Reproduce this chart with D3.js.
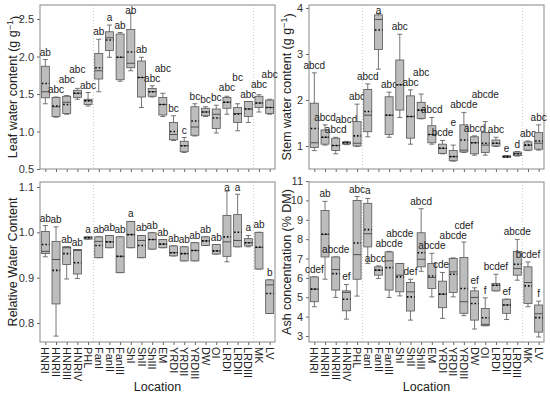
<!DOCTYPE html>
<html>
<head>
<meta charset="utf-8">
<script src="https://cdn.jsdelivr.net/npm/d3@7"></script>
<style>
  body { margin: 0; background: #fff; }
  text { font-family: Arial, "Liberation Sans", sans-serif; }
</style>
</head>
<body>
<div id="chart"></div>
<script>
// sampling locations (same order in all four panels)
var locations = ["HNRI", "HNRII", "HNRIII", "HNRIV", "PHL", "FanI", "FanII", "FanIII",
  "ShI", "ShII", "ShIII", "EM", "YRDI", "YRDII", "YRDIII", "DW", "OI",
  "LRDI", "LRDII", "LRDIII", "MK", "LV"];

// each box: [whisker low, q1, median, q3, whisker high, mean]
var leafBoxes = [
  [1.37, 1.45, 1.53, 1.87, 1.96, 1.64], [1.19, 1.20, 1.33, 1.455, 1.46, 1.34],
  [1.23, 1.24, 1.39, 1.47, 1.48, 1.36], [1.43, 1.455, 1.51, 1.55, 1.575, 1.51],
  [1.34, 1.36, 1.41, 1.43, 1.52, 1.41], [1.53, 1.70, 1.81, 2.04, 2.23, 1.85],
  [1.99, 2.08, 2.25, 2.33, 2.42, 2.22], [1.67, 1.69, 1.99, 2.30, 2.32, 1.99],
  [1.81, 1.85, 1.91, 2.36, 2.58, 2.06], [1.32, 1.46, 1.72, 1.94, 1.99, 1.72],
  [1.46, 1.47, 1.53, 1.575, 1.61, 1.53], [1.20, 1.22, 1.36, 1.455, 1.51, 1.36],
  [0.88, 0.89, 0.96, 1.12, 1.21, 1.00], [0.72, 0.73, 0.81, 0.87, 0.92, 0.81],
  [0.94, 0.95, 1.06, 1.33, 1.37, 1.14], [1.20, 1.21, 1.26, 1.31, 1.33, 1.26],
  [0.98, 1.04, 1.23, 1.30, 1.35, 1.18], [1.23, 1.31, 1.39, 1.455, 1.47, 1.39],
  [1.01, 1.12, 1.24, 1.32, 1.37, 1.23], [1.12, 1.20, 1.30, 1.40, 1.40, 1.30],
  [1.26, 1.32, 1.38, 1.47, 1.49, 1.38], [1.23, 1.24, 1.32, 1.42, 1.43, 1.32]
];
var leafLetters = ["ab", "abc", "abc", "abc", "abc", "ab", "a", "ab", "ab", "ab", "abc",
  "abc", "bc", "c", "bc", "bc", "bc", "abc", "bc", "abc", "abc", "abc"];

var stemBoxes = [
  [0.90, 0.97, 1.07, 1.93, 2.59, 1.38], [1.02, 1.04, 1.19, 1.35, 1.46, 1.19],
  [0.83, 0.90, 1.01, 1.17, 1.19, 1.01], [1.03, 1.04, 1.07, 1.09, 1.10, 1.07],
  [0.99, 1.00, 1.06, 1.53, 1.91, 1.22], [1.20, 1.31, 1.67, 2.23, 2.35, 1.75],
  [2.67, 3.10, 3.75, 3.85, 3.88, 3.52], [1.19, 1.25, 1.67, 2.07, 2.17, 1.67],
  [1.62, 1.78, 2.33, 2.87, 3.43, 2.33], [1.04, 1.17, 1.64, 2.09, 2.22, 1.64],
  [1.59, 1.60, 1.78, 1.95, 2.13, 1.78], [1.04, 1.07, 1.25, 1.44, 1.62, 1.25],
  [0.83, 0.84, 0.95, 1.04, 1.12, 0.95], [0.67, 0.68, 0.77, 0.90, 1.02, 0.77],
  [0.86, 0.87, 0.91, 1.46, 1.73, 1.13], [0.80, 0.83, 1.07, 1.20, 1.22, 1.07],
  [0.80, 0.86, 1.02, 1.29, 1.53, 1.06], [0.99, 1.00, 1.06, 1.13, 1.19, 1.06],
  [0.75, 0.755, 0.77, 0.785, 0.79, 0.77], [0.78, 0.79, 0.83, 0.87, 0.88, 0.83],
  [0.90, 0.91, 1.02, 1.09, 1.11, 1.02], [0.91, 0.93, 1.06, 1.29, 1.46, 1.11]
];
var stemLetters = ["abcd", "abcd", "abcd", "abcd", "abc", "abcd", "a", "abc", "abc", "abc",
  "abc", "abcd", "bcde", "e", "abcde", "abcd", "abcde", "abc", "e", "d", "abc", "abc"];

var rwcBoxes = [
  [0.946, 0.953, 0.958, 1.002, 1.015, 0.973], [0.771, 0.842, 0.94, 0.98, 1.012, 0.916],
  [0.897, 0.929, 0.966, 0.968, 0.968, 0.953], [0.898, 0.908, 0.96, 0.962, 0.962, 0.933],
  [0.985, 0.985, 0.988, 0.99, 0.99, 0.988], [0.944, 0.944, 0.98, 0.99, 0.99, 0.971],
  [0.966, 0.966, 0.979, 0.993, 0.993, 0.979], [0.911, 0.911, 0.947, 0.99, 0.99, 0.947],
  [0.966, 0.966, 0.995, 1.024, 1.024, 0.995], [0.944, 0.944, 0.982, 0.993, 0.993, 0.971],
  [0.963, 0.963, 0.984, 0.999, 0.999, 0.984], [0.966, 0.966, 0.974, 0.984, 0.984, 0.974],
  [0.948, 0.948, 0.955, 0.97, 0.97, 0.955], [0.937, 0.937, 0.953, 0.968, 0.968, 0.953],
  [0.937, 0.937, 0.96, 0.977, 0.977, 0.96], [0.971, 0.971, 0.981, 0.99, 0.99, 0.981],
  [0.952, 0.952, 0.959, 0.973, 0.973, 0.959], [0.935, 0.947, 0.979, 1.037, 1.091, 0.99],
  [0.968, 0.968, 0.982, 1.039, 1.084, 1.0], [0.968, 0.97, 0.977, 0.986, 0.993, 0.977],
  [0.919, 0.919, 0.967, 1.0, 1.0, 0.967], [0.821, 0.821, 0.884, 0.895, 0.895, 0.865]
];
var rwcLetters = ["ab", "ab", "ab", "ab", "a", "ab", "ab", "ab", "a", "ab", "ab",
  "ab", "ab", "ab", "ab", "ab", "ab", "a", "a", "a", "ab", "b"];

var ashBoxes = [
  [4.51, 4.77, 5.42, 6.05, 6.05, 5.42], [5.93, 7.08, 8.25, 9.48, 9.95, 8.25],
  [4.99, 5.37, 6.43, 7.08, 7.08, 6.22], [3.87, 4.30, 5.25, 5.33, 5.66, 4.9],
  [5.06, 5.93, 7.2, 10.0, 10.2, 7.8], [6.74, 7.6, 8.28, 9.85, 10.1, 8.49],
  [5.97, 6.14, 6.4, 6.57, 6.62, 6.4], [4.99, 5.37, 6.88, 7.34, 7.37, 6.53],
  [5.07, 5.28, 6.14, 6.74, 6.74, 6.05], [3.82, 4.29, 5.28, 5.76, 5.93, 5.02],
  [6.34, 6.57, 6.96, 8.33, 9.57, 7.3], [5.02, 5.45, 6.02, 6.74, 7.27, 6.1],
  [3.91, 4.46, 5.16, 5.83, 6.28, 5.16], [5.02, 5.25, 6.31, 7.0, 7.03, 6.19],
  [4.05, 4.17, 4.77, 7.05, 7.85, 5.45], [3.36, 3.82, 4.99, 5.33, 5.49, 4.68],
  [3.53, 3.53, 3.6, 4.42, 4.97, 3.94], [5.33, 5.33, 5.62, 5.71, 6.19, 5.62],
  [3.85, 4.17, 4.6, 4.9, 4.9, 4.6], [5.88, 6.14, 6.48, 7.37, 7.99, 6.7],
  [4.51, 4.68, 5.76, 6.57, 6.82, 5.59], [2.95, 3.2, 4.15, 4.6, 4.8, 3.95]
];
var ashLetters = ["cdef", "ab", "abcde", "ef", "abc", "a", "abcde", "abcde", "abcde", "def",
  "abcd", "abcde", "cdef", "abcde", "cdef", "ef", "f", "bcdef", "ef", "abcde", "bcdef", "f"];

// y tick values
var leafTicks = [0.5, 1.0, 1.5, 2.0, 2.5];
var stemTicks = [1, 2, 3, 4];
var rwcTicks = [0.8, 0.9, 1.0, 1.1];
var ashTicks = [3, 4, 5, 6, 7, 8, 9, 10, 11];

// group borders: after PHL and after LRDIII
var groupBreaks = [4, 19];

var width = 550, height = 398;

var svg = d3.select("#chart").append("svg")
  .attr("width", width)
  .attr("height", height);

var panels = [
  { left: 40, right: 275, top: 5, bottom: 169, domain: [0.5, 2.687], ticks: leafTicks, fmt: ".1f",
    boxes: leafBoxes, letters: leafLetters, titleX: 13, title: ["Leaf water content (g g", "\u22121", ")"], xLabels: false },
  { left: 309, right: 544, top: 5, bottom: 169, domain: [0.5, 4.065], ticks: stemTicks, fmt: "d",
    boxes: stemBoxes, letters: stemLetters, titleX: 287, title: ["Stem water content (g g", "\u22121", ")"], xLabels: false },
  { left: 40, right: 275, top: 182, bottom: 342, domain: [0.758, 1.111], ticks: rwcTicks, fmt: ".1f",
    boxes: rwcBoxes, letters: rwcLetters, titleX: 13, title: ["Relative Water Content"], xLabels: true },
  { left: 309, right: 544, top: 182, bottom: 342, domain: [2.69, 10.95], ticks: ashTicks, fmt: "d",
    boxes: ashBoxes, letters: ashLetters, titleX: 287, title: ["Ash concentration (% DM)"], xLabels: true }
];

function drawPanel(p) {
  var x = d3.scalePoint().domain(locations).range([p.left, p.right]).padding(0.5);
  var y = d3.scaleLinear().domain(p.domain).range([p.bottom, p.top]);
  var step = x.step();
  var bw = 8, cap = 5;

  var g = svg.append("g");

  // dotted group separators
  groupBreaks.forEach(function(b) {
    var sx = x(locations[b]) + step / 2;
    g.append("line")
      .attr("x1", sx).attr("x2", sx)
      .attr("y1", p.top).attr("y2", p.bottom)
      .attr("stroke", "#bbb")
      .attr("stroke-width", 0.8)
      .attr("stroke-dasharray", "1,2");
  });

  var yAxis = d3.axisLeft(y).tickValues(p.ticks).tickFormat(d3.format(p.fmt))
    .tickSizeInner(3).tickSizeOuter(0).tickPadding(3);
  var ga = g.append("g").attr("transform", "translate(" + p.left + ",0)").call(yAxis);
  ga.select(".domain").remove();
  ga.selectAll("line").attr("stroke", "#666");
  ga.selectAll("text").attr("font-size", "11px").attr("fill", "#333")
    .style("font-family", "Arial, 'Liberation Sans', sans-serif");

  var xAxis = d3.axisBottom(x).tickSizeInner(3).tickSizeOuter(0).tickFormat("");
  var gx = g.append("g").attr("transform", "translate(0," + p.bottom + ")").call(xAxis);
  gx.select(".domain").remove();
  gx.selectAll("line").attr("stroke", "#666");

  // frame
  g.append("rect")
    .attr("x", p.left).attr("y", p.top)
    .attr("width", p.right - p.left).attr("height", p.bottom - p.top)
    .attr("fill", "none").attr("stroke", "#888").attr("stroke-width", 1);

  var boxG = g.selectAll(".box").data(p.boxes).enter().append("g");

  // whiskers
  boxG.append("line")
    .attr("x1", function(d, i) { return x(locations[i]); })
    .attr("x2", function(d, i) { return x(locations[i]); })
    .attr("y1", function(d) { return y(d[0]); })
    .attr("y2", function(d) { return y(d[4]); })
    .attr("stroke", "#666").attr("stroke-width", 0.9);
  [0, 4].forEach(function(k) {
    boxG.append("line")
      .attr("x1", function(d, i) { return x(locations[i]) - cap / 2; })
      .attr("x2", function(d, i) { return x(locations[i]) + cap / 2; })
      .attr("y1", function(d) { return y(d[k]); })
      .attr("y2", function(d) { return y(d[k]); })
      .attr("stroke", "#666").attr("stroke-width", 0.9);
  });

  boxG.append("rect")
    .attr("x", function(d, i) { return x(locations[i]) - bw / 2; })
    .attr("y", function(d) { return y(d[3]); })
    .attr("width", bw)
    .attr("height", function(d) { return Math.max(1, y(d[1]) - y(d[3])); })
    .attr("fill", "#bdbdbd").attr("stroke", "#555").attr("stroke-width", 0.8);

  // median
  boxG.append("line")
    .attr("x1", function(d, i) { return x(locations[i]) - bw / 2; })
    .attr("x2", function(d, i) { return x(locations[i]) + bw / 2; })
    .attr("y1", function(d) { return y(d[2]); })
    .attr("y2", function(d) { return y(d[2]); })
    .attr("stroke", "#444").attr("stroke-width", 0.9);

  // mean (dotted)
  boxG.append("line")
    .attr("x1", function(d, i) { return x(locations[i]) - bw / 2 + 0.5; })
    .attr("x2", function(d, i) { return x(locations[i]) + bw / 2; })
    .attr("y1", function(d) { return y(d[5]); })
    .attr("y2", function(d) { return y(d[5]); })
    .attr("stroke", "#000").attr("stroke-width", 1.6)
    .attr("stroke-dasharray", "1.5,2");

  // significance letters, nudged up when they would hit a neighbour
  var placed = [];
  var labels = boxG.append("text")
    .attr("x", function(d, i) { return x(locations[i]); })
    .attr("y", function(d) { return y(d[4]) - 4; })
    .attr("text-anchor", "middle")
    .attr("font-size", "10px")
    .attr("fill", "#222")
    .text(function(d, i) { return p.letters[i]; });
  labels.each(function(d, i) {
    var w = this.getComputedTextLength();
    var cx = x(locations[i]);
    var ly = Math.max(p.top + 9, y(d[4]) - 4);
    var moved = true;
    while (moved) {
      moved = false;
      placed.forEach(function(o) {
        var overlapX = Math.abs(o.cx - cx) < (o.w + w) / 2 - 1;
        if (overlapX && Math.abs(o.y - ly) < 9.5) { ly = o.y - 10; moved = true; }
      });
    }
    placed.push({ cx: cx, w: w, y: ly });
    d3.select(this).attr("y", ly);
  });

  // y title
  var cy = (p.top + p.bottom) / 2;
  var t = g.append("text")
    .attr("transform", "translate(" + p.titleX + "," + cy + ") rotate(-90)")
    .attr("text-anchor", "middle")
    .attr("dy", "0.35em")
    .attr("font-size", "12.5px")
    .attr("fill", "#222");
  t.append("tspan").text(p.title[0]);
  if (p.title.length > 1) {
    t.append("tspan").attr("dy", "-0.45em").attr("font-size", "9px").text(p.title[1]);
    t.append("tspan").attr("dy", "0.45em").text(p.title[2]);
  }

  if (p.xLabels) {
    g.selectAll(".xl").data(locations).enter().append("text")
      .attr("transform", function(d) { return "translate(" + x(d) + "," + (p.bottom + 5) + ") rotate(90)"; })
      .attr("dy", "0.35em")
      .attr("text-anchor", "start")
      .attr("font-size", "11px")
      .attr("fill", "#222")
      .text(function(d) { return d; });

    g.append("text")
      .attr("x", (p.left + p.right) / 2)
      .attr("y", 391)
      .attr("text-anchor", "middle")
      .attr("font-size", "12.5px")
      .attr("fill", "#222")
      .text("Location");
  }
}

panels.forEach(drawPanel);
</script>
</body>
</html>
